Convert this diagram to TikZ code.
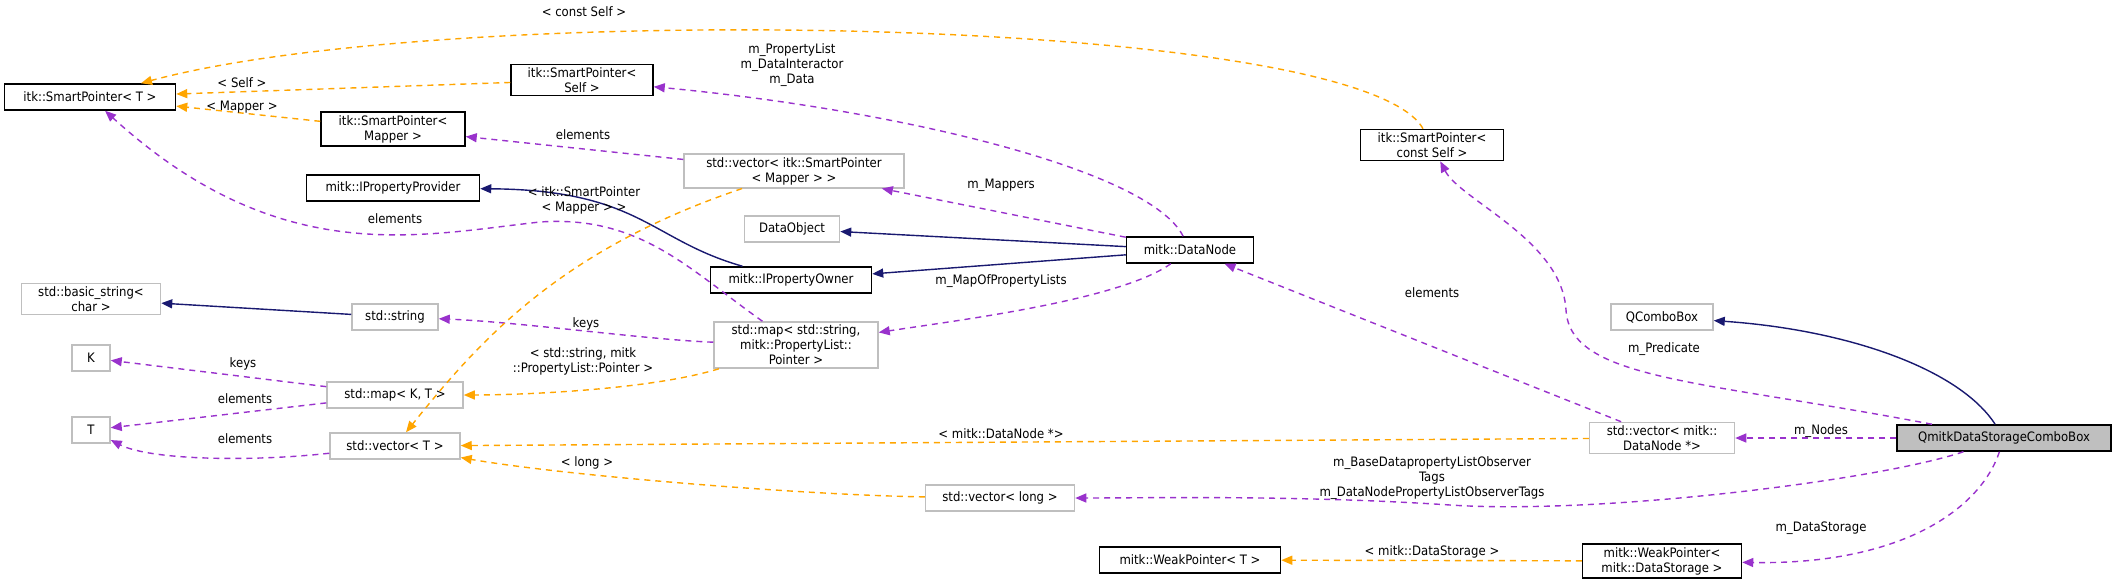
\documentclass[tikz,border=0pt]{standalone}
\usepackage{fontspec}
\setmainfont{DejaVu Sans Condensed}
\usetikzlibrary{arrows.meta,positioning,calc}
\definecolor{inhcol}{RGB}{25,25,112}
\definecolor{usecol}{RGB}{153,50,204}
\definecolor{tplcol}{RGB}{255,165,0}
\definecolor{boxgrey}{RGB}{191,191,191}
\begin{document}
\begin{tikzpicture}[x=1pt,y=-1pt,
	  every node/.style={align=center,font=\fontsize{13}{15}\selectfont,inner sep=3pt},
	  cls/.style={draw=black,line width=1.5pt,minimum height=26pt,fill=white},
	  ext/.style={draw=boxgrey,line width=1.5pt,minimum height=26pt,fill=white},
	  sel/.style={draw=black,line width=1.5pt,minimum height=26pt,fill=boxgrey},
	  lbl/.style={inner sep=0pt,fill=none},
	  inh/.style={-{Triangle[length=11pt,width=9pt]},draw=inhcol,line width=1.4pt},
	  use/.style={-{Triangle[length=11pt,width=9pt]},draw=usecol,dashed,dash pattern=on 6pt off 5pt,line width=1.4pt},
	  tpl/.style={-{Triangle[length=11pt,width=9pt]},draw=tplcol,dashed,dash pattern=on 6pt off 5pt,line width=1.4pt}]

	  \useasboundingbox (0,0) rectangle (2113,587);

	  % classes, placed at the graphviz positions
	  \node[cls,minimum width=171pt] (spt) at (90,97) {itk::SmartPointer< T >};
	  \node[cls,minimum width=142pt] (spself) at (582,80) {itk::SmartPointer<\\Self >};
	  \node[cls,minimum width=144pt] (spmapper) at (393,129) {itk::SmartPointer<\\Mapper >};
	  \node[cls,minimum width=173pt] (provider) at (393,188) {mitk::IPropertyProvider};
	  \node[ext,minimum width=220pt] (vecspm) at (794,171) {std::vector< itk::SmartPointer\\< Mapper > >};
	  \node[ext,minimum width=95pt] (dataobject) at (792,229) {DataObject};
	  \node[cls,minimum width=161pt] (owner) at (791,280) {mitk::IPropertyOwner};
	  \node[cls,minimum width=127pt] (datanode) at (1190,250) {mitk::DataNode};
	  \node[cls,minimum width=143pt] (constself) at (1432,145) {itk::SmartPointer<\\const Self >};
	  \node[ext,minimum width=139pt] (basicstr) at (91,299) {std::basic\_string<\\char >};
	  \node[ext,minimum width=86pt] (stdstr) at (395,317) {std::string};
	  \node[ext,minimum width=164pt] (mapsp) at (796,345) {std::map< std::string,\\mitk::PropertyList::\\Pointer >};
	  \node[ext,minimum width=38pt] (kk) at (91,358) {K};
	  \node[ext,minimum width=38pt] (tt) at (91,430) {T};
	  \node[ext,minimum width=136pt] (mapkt) at (395,395) {std::map< K, T >};
	  \node[ext,minimum width=130pt] (vect) at (395,446) {std::vector< T >};
	  \node[ext,minimum width=102pt] (qcombo) at (1662,317) {QComboBox};
	  \node[ext,minimum width=145pt] (vecdn) at (1662,438) {std::vector< mitk::\\DataNode *>};
	  \node[sel,minimum width=214pt] (qmitk) at (2004,438) {QmitkDataStorageComboBox};
	  \node[ext,minimum width=149pt] (veclong) at (1000,498) {std::vector< long >};
	  \node[cls,minimum width=181pt] (wpt) at (1190,560) {mitk::WeakPointer< T >};
	  \node[cls,minimum width=159pt] (wpds) at (1662,561) {mitk::WeakPointer<\\mitk::DataStorage >};

	  % inheritance
	  \draw[inh] (owner) .. controls (650,240) and (640,190) .. (provider);
	  \draw[inh] (datanode) -- (dataobject);
	  \draw[inh] (datanode) -- (owner);
	  \draw[inh] (stdstr) -- (basicstr);
	  \draw[inh] (qmitk) .. controls (1960,370) and (1850,330) .. (qcombo);

	  % usage
	  \draw[use] (datanode) .. controls (1150,170) and (900,110) .. (spself);
	  \draw[use] (vecspm) -- (spmapper);
	  \draw[use] (mapsp) .. controls (690,270) and (640,215) .. (540,222) .. controls (420,235) and (280,270) .. (spt);
	  \draw[use] (datanode) -- (vecspm);
	  \draw[use] (datanode) .. controls (1120,300) and (960,320) .. (mapsp);
	  \draw[use] (mapsp) .. controls (650,340) and (520,322) .. (stdstr);
	  \draw[use] (mapkt) -- (kk);
	  \draw[use] (mapkt) -- (tt);
	  \draw[use] (vect) .. controls (250,462) and (150,460) .. (tt);
	  \draw[use] (vecdn) -- (datanode);
	  \draw[use] (qmitk) .. controls (1700,380) and (1570,380) .. (1566,310) .. controls (1562,240) and (1460,200) .. (constself);
	  \draw[use] (qmitk) -- (vecdn);
	  \draw[use] (qmitk) .. controls (1880,480) and (1600,515) .. (1450,505) .. controls (1300,495) and (1150,498) .. (veclong);
	  \draw[use] (qmitk) .. controls (1980,510) and (1900,565) .. (wpds);

	  % templates
	  \draw[tpl] (constself) .. controls (1360,15) and (450,0) .. (spt);
	  \draw[tpl] (spself) -- (spt);
	  \draw[tpl] (spmapper) -- (spt);
	  \draw[tpl] (vecspm) .. controls (560,250) and (480,340) .. (vect);
	  \draw[tpl] (mapsp) .. controls (650,390) and (520,395) .. (mapkt);
	  \draw[tpl] (vecdn) -- (vect);
	  \draw[tpl] (veclong) .. controls (800,495) and (560,475) .. (vect);
	  \draw[tpl] (wpds) -- (wpt);

	  % edge labels
	  \node[lbl] (lconst) at (584,12) {< const Self >};
	  \node[lbl] (lself) at (242,83) {< Self >};
	  \node[lbl] (lmapper) at (242,107) {< Mapper >};
	  \node[lbl] (lproplist) at (792,65) {m\_PropertyList\\m\_DataInteractor\\m\_Data};
	  \node[lbl] (lelemspm) at (583,135) {elements};
	  \node[lbl] (lspmap) at (584,200) {< itk::SmartPointer\\< Mapper > >};
	  \node[lbl] (lelemspt) at (395,219) {elements};
	  \node[lbl] (lmappers) at (1001,185) {m\_Mappers};
	  \node[lbl] (lmapof) at (1001,281) {m\_MapOfPropertyLists};
	  \node[lbl] (lkeysa) at (586,324) {keys};
	  \node[lbl] (lstrmitk) at (583,361) {< std::string, mitk\\::PropertyList::Pointer >};
	  \node[lbl] (lkeysb) at (243,364) {keys};
	  \node[lbl] (lelemkt) at (245,399) {elements};
	  \node[lbl] (lelemvt) at (245,439) {elements};
	  \node[lbl] (llong) at (587,463) {< long >};
	  \node[lbl] (lelemdn) at (1432,293) {elements};
	  \node[lbl] (lpred) at (1664,349) {m\_Predicate};
	  \node[lbl] (lnodes) at (1821,431) {m\_Nodes};
	  \node[lbl] (ldnptr) at (1001,434) {< mitk::DataNode *>};
	  \node[lbl] (lobs) at (1432,478) {m\_BaseDatapropertyListObserver\\Tags\\m\_DataNodePropertyListObserverTags};
	  \node[lbl] (lds) at (1821,528) {m\_DataStorage};
	  \node[lbl] (lmds) at (1432,552) {< mitk::DataStorage >};

\end{tikzpicture}
\end{document}
